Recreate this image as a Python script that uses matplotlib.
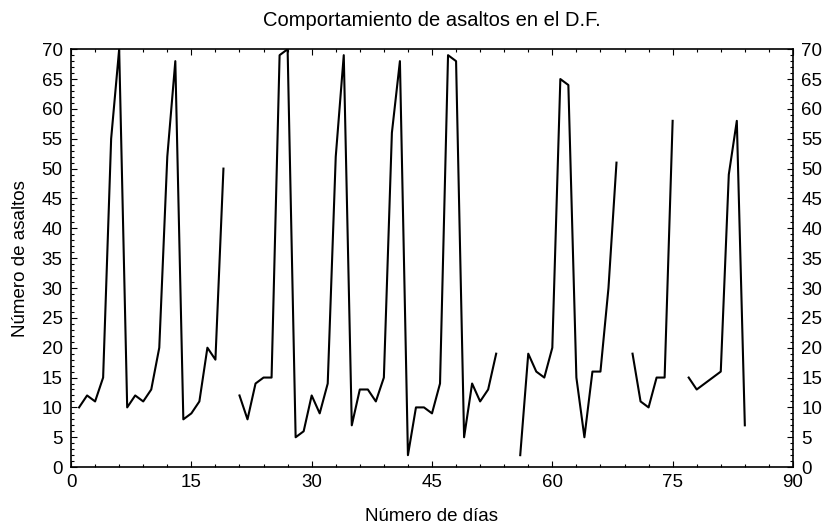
import numpy as np
import matplotlib
matplotlib.use('Agg')
import matplotlib.pyplot as plt
from matplotlib.ticker import MultipleLocator

# Data (NaN = missing day, breaks the line)
dias = list(range(1, 85))
asaltos = [10, 12, 11, 15, 55, 70, 10, 12, 11, 13,
           20, 52, 68, 8, 9, 11, 20, 18, 50, np.nan,
           12, 8, 14, 15, 15, 69, 70, 5, 6, 12,
           9, 14, 52, 69, 7, 13, 13, 11, 15, 56,
           68, 2, 10, 10, 9, 14, 69, 68, 5, 14,
           11, 13, 19, np.nan, np.nan, 2, 19, 16, 15, 20,
           65, 64, 15, 5, 16, 16, 30, 51, np.nan, 19,
           11, 10, 15, 15, 58, np.nan, 15, 13, 14, 15,
           16, 49, 58, 7]

plt.rcParams['font.family'] = ['Liberation Sans', 'DejaVu Sans']
plt.rcParams['font.size'] = 13.5

fig = plt.figure(figsize=(8.26, 5.29), dpi=100)
ax = fig.add_axes([0.086, 0.117, 0.874, 0.790])

ax.plot(dias, asaltos, color='black', linewidth=1.5)

ax.set_xlim(0, 90)
ax.set_ylim(0, 70)
ax.xaxis.set_major_locator(MultipleLocator(15))
ax.xaxis.set_minor_locator(MultipleLocator(3))
ax.yaxis.set_major_locator(MultipleLocator(5))
ax.yaxis.set_minor_locator(MultipleLocator(1))
ax.tick_params(which='both', direction='in', top=True, right=True, labelright=True, width=0.8)
ax.tick_params(which='major', length=4)
ax.tick_params(which='minor', length=2)
ax.tick_params(axis='y', which='major', pad=6)
ax.tick_params(axis='x', which='major', pad=5)
for s in ax.spines.values():
    s.set_linewidth(1.2)

ax.set_title('Comportamiento de asaltos en el D.F.', fontsize=14.5, pad=17)
ax.set_xlabel('Número de días', labelpad=12)
ax.set_ylabel('Número de asaltos', labelpad=9)

fig.savefig('out.png', dpi=100)
